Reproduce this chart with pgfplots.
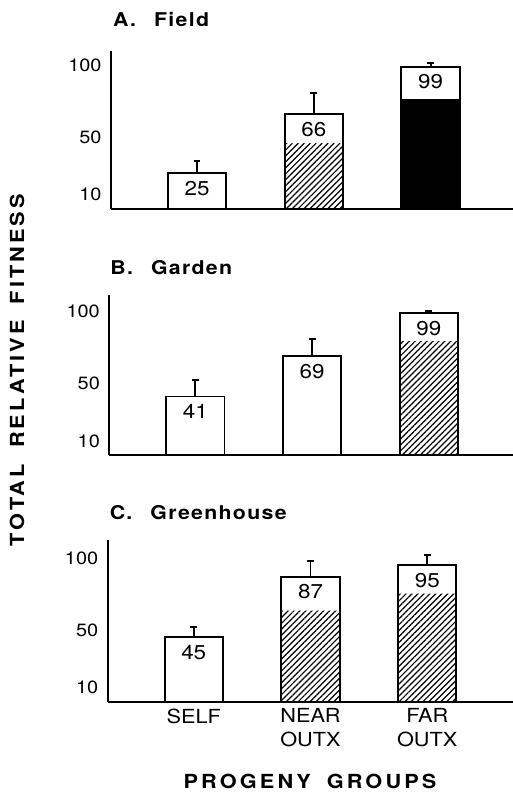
\documentclass[border=0pt]{standalone}
\usepackage{fontspec}
\setmainfont{TeX Gyre Heros}[FakeStretch=1.12]
\usepackage{pgfplots}
\pgfplotsset{compat=1.18}
\usetikzlibrary{patterns,patterns.meta}

\newcommand{\ticklab}{\fontsize{8.9}{10}\selectfont}
\newcommand{\vallab}{\fontsize{10}{11}\selectfont}
\newcommand{\catlab}{\fontsize{9.7}{11.85}\selectfont}
\newcommand{\titlefont}{\fontsize{9.5}{11}\selectfont\bfseries\addfontfeatures{LetterSpace=7}}
\newcommand{\labfont}{\fontsize{9.7}{11}\selectfont\bfseries\addfontfeatures{LetterSpace=16}}

\pgfplotsset{
  panel/.style={
    anchor=south west,
    x=58.375pt, y=0.7175pt,
    xmin=0.263, xmax=3.75, ymin=0,
    axis x line*=bottom, axis y line*=left,
    axis line style={line width=0.95pt, black},
    major tick length=0pt,
    xtick={1,2,3}, xticklabels={},
    ytick={10,50,100},
    /pgf/number format/assume math mode=true,
    yticklabel style={font=\ticklab, xshift=-1.2pt},
    clip=false,
  },
  lower/.style={ybar, bar width=0.5, bar shift=0pt, draw=none},
  hatch/.style={lower, pattern={Lines[angle=45, distance=2.1pt, line width=0.6pt]}, pattern color=black},
  outline/.style={ybar, bar width=0.5, bar shift=0pt, draw=black, fill=none,
    line width=0.95pt,
    nodes near coords,
    nodes near coords style={anchor=center, yshift=-7.5pt, font=\vallab, text=black},
    error bars/.cd, y dir=plus, y explicit,
    error mark=|,
    error bar style={line width=0.95pt, black},
    error mark options={line width=0.95pt, mark size=1.7pt, black}},
}

\begin{document}
\begin{tikzpicture}
% Panel A: Field
\begin{axis}[panel, at={(55.5pt,291.5pt)}, ymax=110.3]
\addplot[hatch] coordinates {(2,45.3)};
\addplot[lower, fill=black] coordinates {(3,76.7)};
\addplot[outline] coordinates {(1,25) +- (0,8.7) (2,66) +- (0,14.6) (3,99) +- (0,2.5)};
\end{axis}
% Panel B: Garden
\begin{axis}[panel, at={(54.65pt,168.35pt)}, ymax=111.7]
\addplot[hatch] coordinates {(3,79)};
\addplot[outline] coordinates {(1,41) +- (0,11.5) (2,69) +- (0,11.8) (3,99) +- (0,1.8)};
\end{axis}
% Panel C: Greenhouse
\begin{axis}[panel, at={(53.85pt,45.15pt)}, ymax=112.7,
  xticklabels={SELF,{NEAR\\OUTX},{FAR\\OUTX}},
  xticklabel style={align=center, font=\catlab, inner sep=0pt, anchor=north, yshift=-3.3pt}]
\addplot[hatch] coordinates {(2,63.4) (3,75.3)};
\addplot[outline] coordinates {(1,45) +- (0,7) (2,87) +- (0,10.8) (3,95) +- (0,7.2)};
\end{axis}

\node[anchor=west, inner sep=0pt, font=\titlefont] at (56.35pt,386.25pt) {A.\hspace{9pt}Field};
\node[anchor=west, inner sep=0pt, font=\titlefont] at (55pt,262.15pt) {B.\hspace{9pt}Garden};
\node[anchor=west, inner sep=0pt, font=\titlefont] at (54.7pt,139.75pt) {C.\hspace{9pt}Greenhouse};

\node[rotate=90, inner sep=0pt, font=\labfont] at (8.5pt,211pt) {TOTAL\hspace{8pt}RELATIVE\hspace{8pt}FITNESS};
\node[inner sep=0pt, font=\labfont] at (155pt,5.15pt) {PROGENY\hspace{8pt}GROUPS};

\pgfresetboundingbox
\useasboundingbox (0,0) rectangle (256.5pt,396pt);
\end{tikzpicture}
\end{document}
